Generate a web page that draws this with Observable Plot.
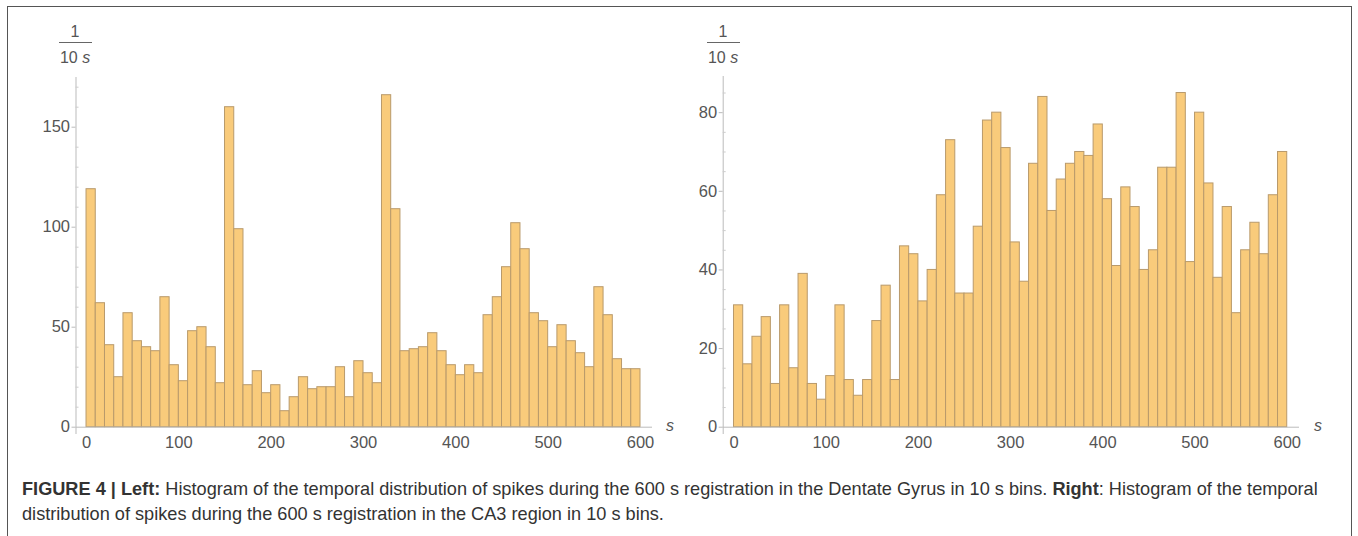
<!DOCTYPE html>
<html>
<head>
<meta charset="utf-8">
<script src="https://cdn.jsdelivr.net/npm/d3@7"></script>
<script src="https://cdn.jsdelivr.net/npm/@observablehq/plot@0.6"></script>
<style>
  html, body { margin: 0; padding: 0; background: #fff; width: 1358px; height: 536px; overflow: hidden; }
  #frame { position: absolute; left: 7px; top: 5.5px; width: 1345px; height: 600px; border: 1.5px solid #555; box-sizing: border-box; }
  .chart { position: absolute; top: 0; }
  .lbl { position: absolute; transform: translate(-50%, -50%); font-family: "Liberation Sans", Arial, sans-serif; font-size: 16px; color: #555; white-space: nowrap; line-height: 1; }
  .bar { position: absolute; height: 1.2px; background: #666; }
  #caption { position: absolute; left: 22px; top: 477px; font-family: "Liberation Sans", Arial, sans-serif; color: #333; line-height: 25px; white-space: nowrap; }
</style>
</head>
<body>
<div id="frame"></div>
<div id="left" class="chart" style="left:0px"></div>
<div id="right" class="chart" style="left:680px"></div>

<div class="lbl" style="left:75px; top:32px">1</div>
<div class="bar" style="left:59px; top:42px; width:33px"></div>
<div class="lbl" style="left:75px; top:58px">10 <i>s</i></div>
<div class="lbl" style="left:670px; top:426px"><i>s</i></div>

<div class="lbl" style="left:723px; top:32px">1</div>
<div class="bar" style="left:707px; top:42px; width:33px"></div>
<div class="lbl" style="left:723px; top:58px">10 <i>s</i></div>
<div class="lbl" style="left:1318px; top:426px"><i>s</i></div>

<div id="caption"><span id="line1"><b>FIGURE 4 | Left:</b> Histogram of the temporal distribution of spikes during the 600 s registration in the Dentate Gyrus in 10 s bins. <b>Right</b>: Histogram of the temporal</span><br><span>distribution of spikes during the 600 s registration in the CA3 region in 10 s bins.</span></div>

<script>
// ---- Data ----
const binWidth = 10;               // seconds per bin
const binStarts = d3.range(0, 600, binWidth);

// Left: Dentate Gyrus, spikes per 10 s bin
const dentateCounts = [
  119, 62, 41, 25, 57, 43, 40, 38, 65, 31,
  23, 48, 50, 40, 22, 160, 99, 21, 28, 17,
  21, 8, 15, 25, 19, 20, 20, 30, 15, 33,
  27, 22, 166, 109, 38, 39, 40, 47, 38, 31,
  26, 31, 27, 56, 65, 80, 102, 89, 57, 53,
  40, 51, 43, 37, 30, 70, 56, 34, 29, 29
];

// Right: CA3 region, spikes per 10 s bin
const ca3Counts = [
  31, 16, 23, 28, 11, 31, 15, 39, 11, 7,
  13, 31, 12, 8, 12, 27, 36, 12, 46, 44,
  32, 40, 59, 73, 34, 34, 51, 78, 80, 71,
  47, 37, 67, 84, 55, 63, 67, 70, 69, 77,
  58, 41, 61, 56, 40, 45, 66, 66, 85, 42,
  80, 62, 38, 56, 29, 45, 52, 44, 59, 70
];

const xTicks = [0, 100, 200, 300, 400, 500, 600];
const leftYTicks = [0, 50, 100, 150];
const leftYMinor = [10, 20, 30, 40, 60, 70, 80, 90, 110, 120, 130, 140, 160, 170];
const rightYTicks = [0, 20, 40, 60, 80];
const rightYMinor = [5, 10, 15, 25, 30, 35, 45, 50, 55, 65, 70, 75, 85];

function histogram(counts, opts) {
  const data = counts.map((c, i) => ({start: binStarts[i], end: binStarts[i] + binWidth, count: c}));
  return Plot.plot({
    width: opts.width,
    height: 460,
    marginLeft: opts.marginLeft,
    marginRight: opts.marginRight,
    marginTop: opts.marginTop,
    marginBottom: 27,
    x: {domain: opts.xDomain, axis: null},
    y: {domain: opts.yDomain, axis: null},
    style: {fontFamily: "Liberation Sans, Arial, sans-serif", fontSize: "16px", background: "transparent", overflow: "visible"},
    marks: [
      Plot.rectY(data, {x1: "start", x2: "end", y: "count", fill: "#f9cb7b", stroke: "#b99a6b", strokeWidth: 1}),
      Plot.ruleY([0], {stroke: "#bbb", strokeWidth: 1}),
      Plot.frame({anchor: "left", stroke: "#bbb", strokeWidth: 1}),
      Plot.axisY(opts.yTicks, {anchor: "left", label: null, tickSize: 4, tickPadding: 2, stroke: "#bbb", fill: "#555", fontSize: 16.5}),
      Plot.axisY(opts.yMinor, {anchor: "left", label: null, tickSize: -3, tickFormat: () => "", stroke: "#ccc"}),
      Plot.axisX(xTicks, {anchor: "bottom", label: null, tickSize: 0, tickPadding: 3, fill: "#555", fontSize: 16.5})
    ]
  });
}

document.getElementById("left").appendChild(histogram(dentateCounts, {
  width: 680, marginLeft: 75.5, marginRight: 28, marginTop: 77,
  xDomain: [-11.4, 613], yDomain: [-3.15, 174.85],
  yTicks: leftYTicks, yMinor: leftYMinor
}));

document.getElementById("right").appendChild(histogram(ca3Counts, {
  width: 678, marginLeft: 42.7, marginRight: 59, marginTop: 76,
  xDomain: [-11.7, 613.3], yDomain: [-1.6, 89.2],
  yTicks: rightYTicks, yMinor: rightYMinor
}));

// Fit caption font so the first line spans the measured width
(function fitCaption() {
  const cap = document.getElementById("caption");
  const line1 = document.getElementById("line1");
  cap.style.fontSize = "16px";
  const w = line1.getBoundingClientRect().width;
  const target = 1296;
  cap.style.fontSize = (16 * target / w).toFixed(2) + "px";
})();
</script>
</body>
</html>
